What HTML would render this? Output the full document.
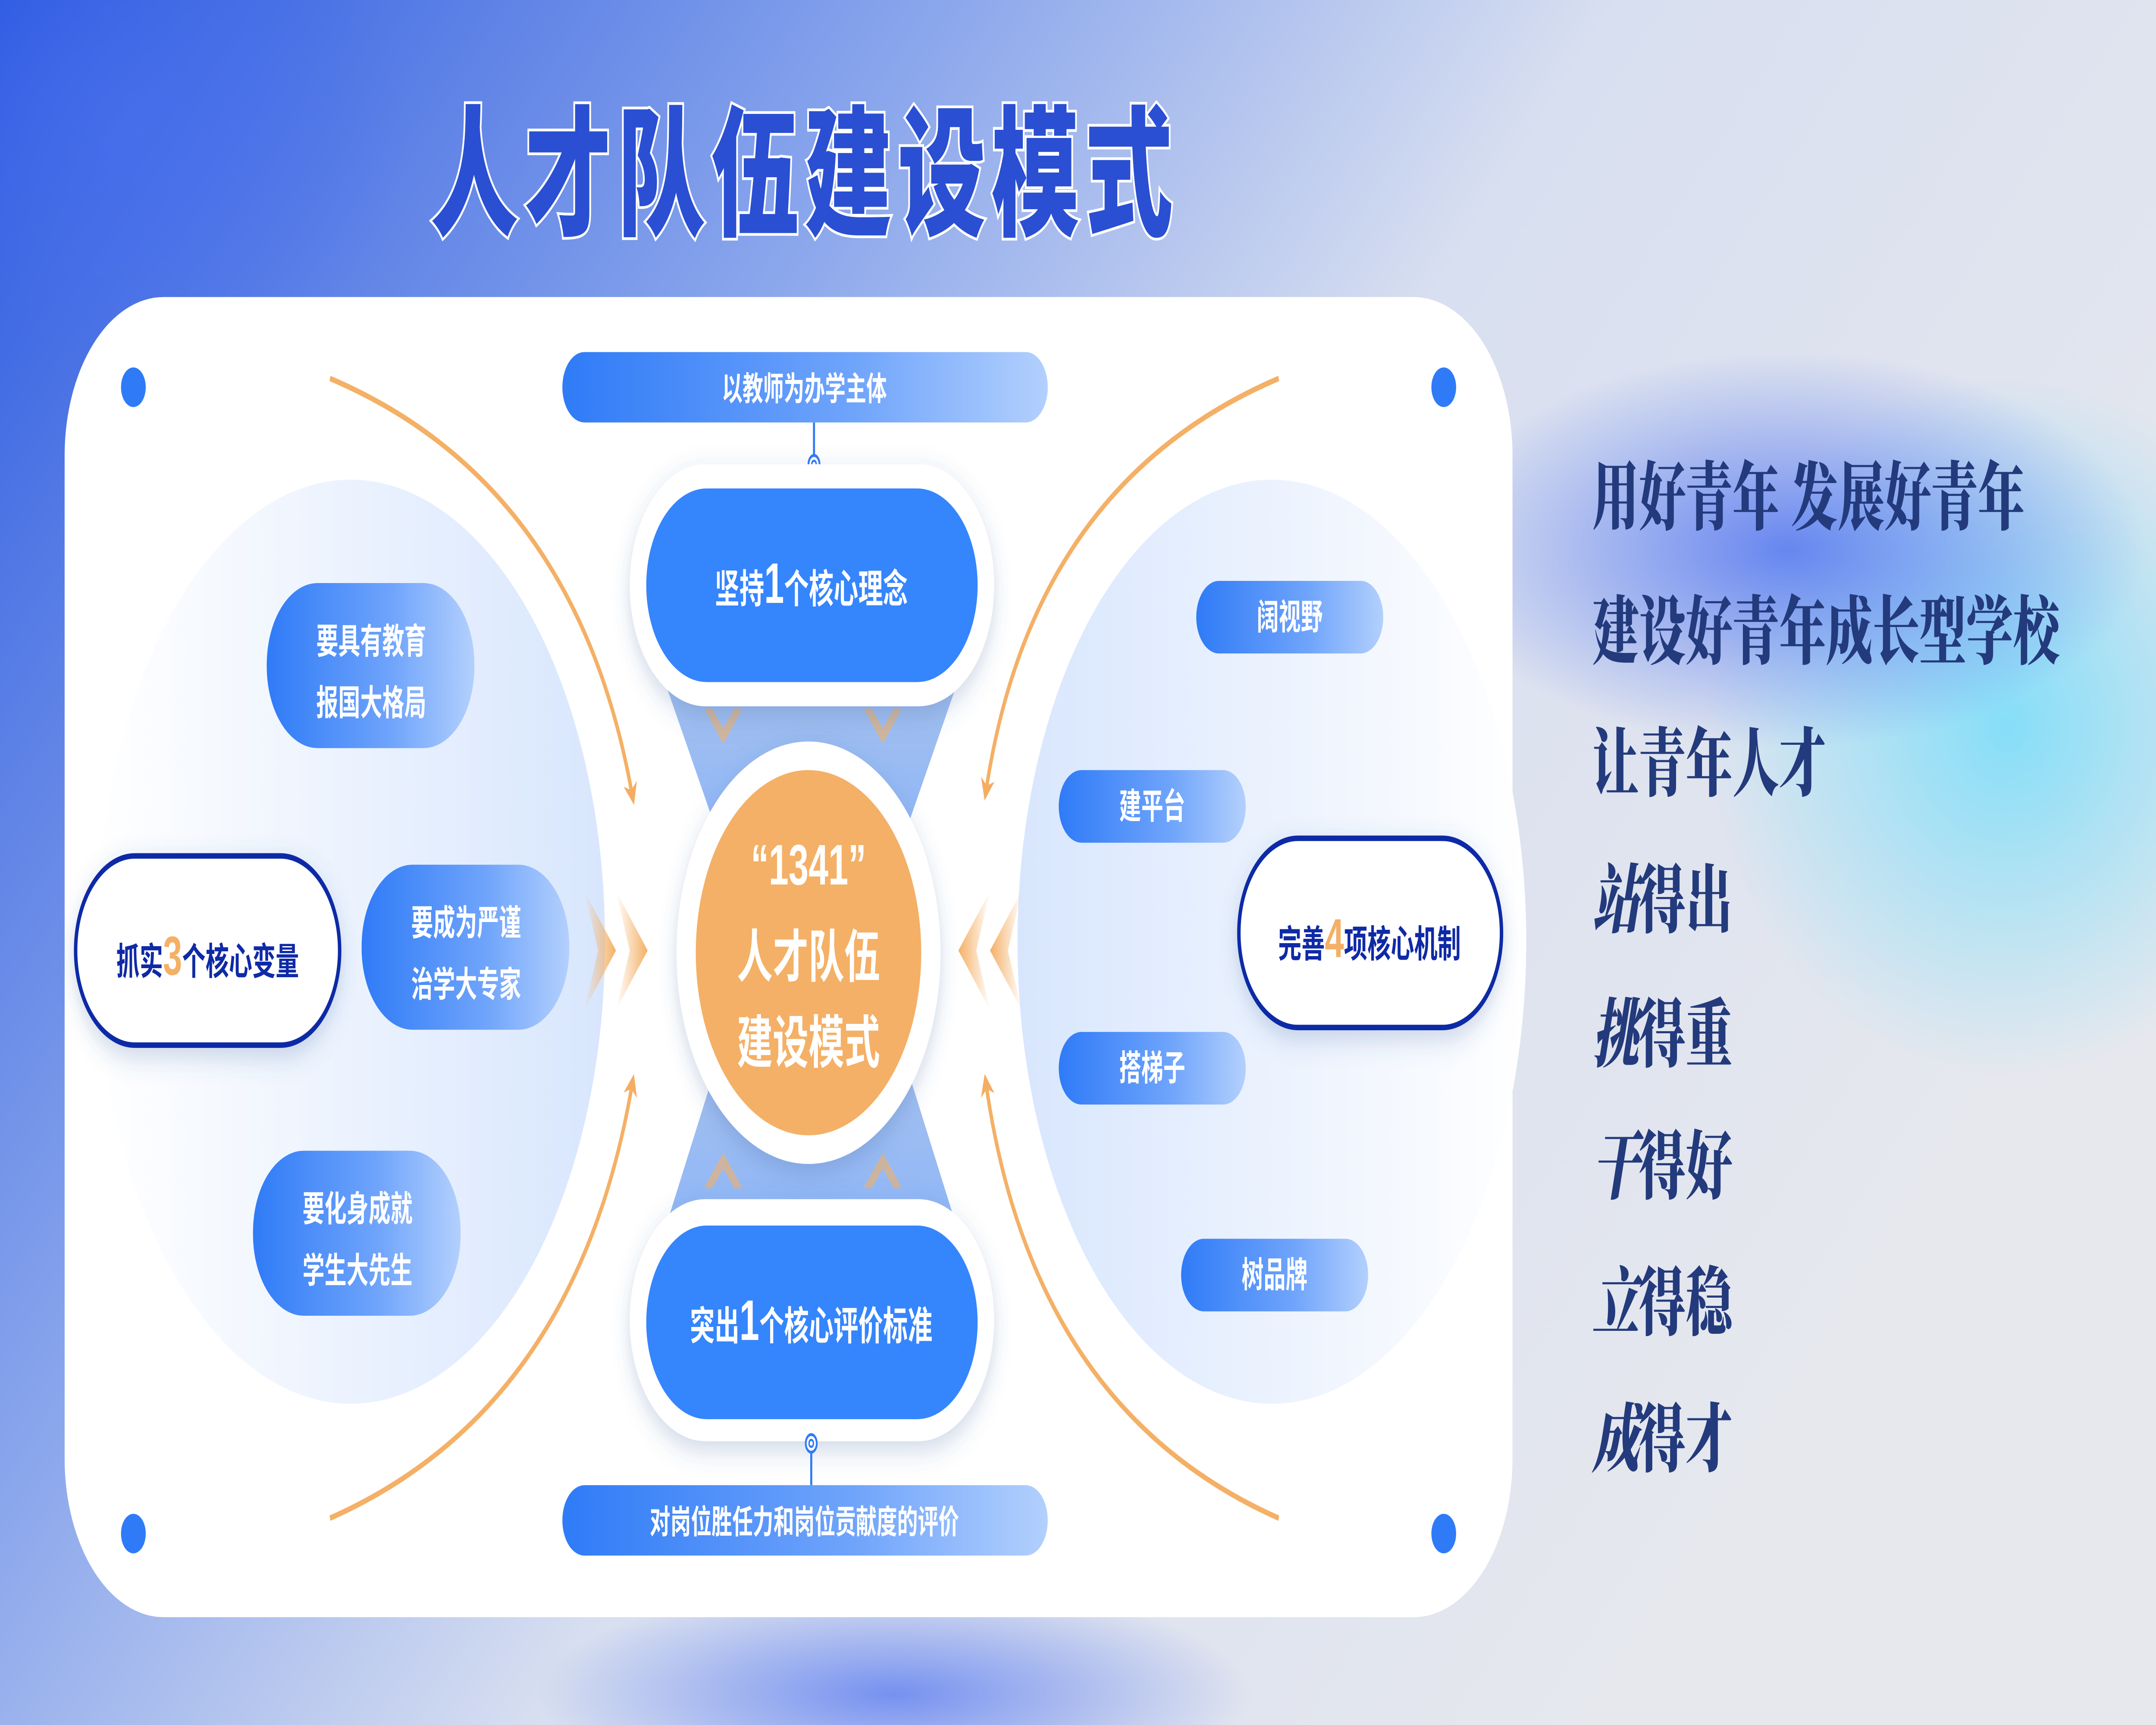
<!DOCTYPE html>
<html><head><meta charset="utf-8"><style>
html,body{margin:0;padding:0;width:100%;height:100%;overflow:hidden;}
svg{display:block;position:absolute;left:0;top:0;width:100vw;height:100vh}
text{font-family:"Liberation Sans","Noto Sans CJK SC",sans-serif;font-weight:bold;}
.s{font-family:"Liberation Serif","Noto Serif CJK SC",serif;font-weight:900;fill:#233a7c;}
</style></head><body>
<svg viewBox="0 0 1568 784" preserveAspectRatio="none" xmlns="http://www.w3.org/2000/svg">
<defs>
<linearGradient id="bg" x1="0" y1="0" x2="1" y2="0.5">
<stop offset="0" stop-color="#2c5ae0"/><stop offset="0.35" stop-color="#8aa6ec"/><stop offset="0.6" stop-color="#d8dff0"/><stop offset="1" stop-color="#e6e8ee"/>
</linearGradient>
<radialGradient id="cy" cx="0.5" cy="0.5" r="0.5"><stop offset="0" stop-color="#86def8"/><stop offset="1" stop-color="#86def8" stop-opacity="0"/></radialGradient>
<radialGradient id="bl" cx="0.5" cy="0.5" r="0.5"><stop offset="0" stop-color="#4a6ff0"/><stop offset="1" stop-color="#4a6ff0" stop-opacity="0"/></radialGradient>
<linearGradient id="pill" x1="0" x2="1"><stop offset="0" stop-color="#2f7bf7"/><stop offset="0.6" stop-color="#6fa4fb"/><stop offset="1" stop-color="#b3d0fd"/></linearGradient>
<linearGradient id="elL" x1="0" x2="1"><stop offset="0" stop-color="#ffffff"/><stop offset="1" stop-color="#d8e6fd"/></linearGradient>
<linearGradient id="elR" x1="1" x2="0"><stop offset="0" stop-color="#ffffff"/><stop offset="1" stop-color="#d8e6fd"/></linearGradient>
<linearGradient id="trap" x1="0" y1="0" x2="0" y2="1"><stop offset="0" stop-color="#a7c2ee"/><stop offset="1" stop-color="#8db5f8"/></linearGradient>
<linearGradient id="chR" x1="0" x2="1"><stop offset="0" stop-color="#f4b066" stop-opacity="0"/><stop offset="1" stop-color="#f4b066"/></linearGradient>
<linearGradient id="chL" x1="1" x2="0"><stop offset="0" stop-color="#f4b066" stop-opacity="0"/><stop offset="1" stop-color="#f4b066"/></linearGradient>
<filter id="sh" x="-30%" y="-30%" width="160%" height="160%"><feDropShadow dx="0" dy="4" stdDeviation="6" flood-color="#4060a0" flood-opacity="0.25"/></filter>
<marker id="ar" markerWidth="10" markerHeight="10" refX="6" refY="5" orient="auto" markerUnits="userSpaceOnUse" viewBox="0 0 10 10"><path d="M0,0 L10,5 L0,10 L3,5z" fill="#f4ad62"/></marker>
</defs>
<rect width="1568" height="784" fill="url(#bg)"/>
<ellipse cx="1460" cy="330" rx="220" ry="160" fill="url(#cy)"/>
<ellipse cx="1300" cy="250" rx="260" ry="90" fill="url(#bl)" opacity="0.8"/>
<ellipse cx="650" cy="770" rx="260" ry="50" fill="url(#bl)" opacity="0.7"/>
<ellipse cx="100" cy="60" rx="200" ry="120" fill="url(#bl)" opacity="0.6"/>

<text x="585" y="102" text-anchor="middle" font-size="64" fill="#2a4fd2" stroke="#ffffff" stroke-width="2.5" paint-order="stroke" letter-spacing="4" style="font-family:'Liberation Sans','Noto Sans CJK SC',sans-serif;font-weight:900">人才队伍建设模式</text>

<rect x="47" y="135" width="1053" height="600" rx="72" fill="#ffffff"/>
<circle cx="97" cy="176" r="9" fill="#2f7bf7"/><circle cx="1050" cy="176" r="9" fill="#2f7bf7"/>
<circle cx="97" cy="697" r="9" fill="#2f7bf7"/><circle cx="1050" cy="697" r="9" fill="#2f7bf7"/>

<ellipse cx="255" cy="428" rx="185" ry="210" fill="url(#elL)"/>
<ellipse cx="925" cy="428" rx="185" ry="210" fill="url(#elR)"/>

<polygon points="478,300 702,300 652,390 528,390" fill="url(#trap)"/>
<polygon points="528,470 652,470 702,570 478,570" fill="url(#trap)"/>
<path d="M240,172 Q420,220 460,362" fill="none" stroke="#f4b066" stroke-width="2.5" marker-end="url(#ar)"/>
<path d="M240,690 Q420,640 460,492" fill="none" stroke="#f4b066" stroke-width="2.5" marker-end="url(#ar)"/>
<path d="M930,172 Q750,220 717,360" fill="none" stroke="#f4b066" stroke-width="2.5" marker-end="url(#ar)"/>
<path d="M930,690 Q750,640 717,492" fill="none" stroke="#f4b066" stroke-width="2.5" marker-end="url(#ar)"/>

<polygon points="425,405 448,432 425,459 435,432" fill="url(#chR)"/>
<polygon points="448,405 471,432 448,459 458,432" fill="url(#chR)"/>
<polygon points="743,405 720,432 743,459 733,432" fill="url(#chL)"/>
<polygon points="720,405 697,432 720,459 710,432" fill="url(#chL)"/>
<g fill="#f4b066" opacity="0.6">
<polygon points="512,322 526,338 540,322 534,322 526,331 518,322"/>
<polygon points="628,322 642,338 656,322 650,322 642,331 634,322"/>
<polygon points="512,540 526,524 540,540 534,540 526,531 518,540"/>
<polygon points="628,540 642,524 656,540 650,540 642,531 634,540"/>
</g>

<rect x="409" y="160" width="353" height="32" rx="16" fill="url(#pill)"/>
<text x="585" y="182" text-anchor="middle" font-size="15" fill="#fff">以教师为办学主体</text>
<line x1="592" y1="192" x2="592" y2="207" stroke="#2f7bf7" stroke-width="1.5"/>
<circle cx="592" cy="211" r="4" fill="#fff" stroke="#2f7bf7" stroke-width="1.3"/><circle cx="592" cy="211" r="1.6" fill="none" stroke="#2f7bf7" stroke-width="1"/>

<rect x="458" y="211" width="265" height="110" rx="55" fill="#fff" filter="url(#sh)"/>
<rect x="470" y="222" width="241" height="88" rx="44" fill="#3585fd"/>
<text x="590" y="274" text-anchor="middle" font-size="18" fill="#fff">坚持<tspan font-size="26">1</tspan>个核心理念</text>

<rect x="458" y="545" width="265" height="110" rx="55" fill="#fff" filter="url(#sh)"/>
<rect x="470" y="557" width="241" height="88" rx="44" fill="#3585fd"/>
<text x="590" y="609" text-anchor="middle" font-size="18" fill="#fff">突出<tspan font-size="26">1</tspan>个核心评价标准</text>

<line x1="590" y1="660" x2="590" y2="675" stroke="#2f7bf7" stroke-width="1.5"/>
<circle cx="590" cy="656" r="4" fill="#fff" stroke="#2f7bf7" stroke-width="1.3"/><circle cx="590" cy="656" r="1.6" fill="none" stroke="#2f7bf7" stroke-width="1"/>
<rect x="409" y="675" width="353" height="32" rx="16" fill="url(#pill)"/>
<text x="585" y="697" text-anchor="middle" font-size="15" fill="#fff">对岗位胜任力和岗位贡献度的评价</text>

<circle cx="588" cy="433" r="96" fill="#fff" filter="url(#sh)"/>
<ellipse cx="588" cy="433" rx="82" ry="83" fill="#f4b066"/>
<g font-size="26" fill="#fff" text-anchor="middle">
<text x="588" y="402">“1341”</text>
<text x="588" y="444">人才队伍</text>
<text x="588" y="483">建设模式</text>
</g>

<g font-size="16" fill="#fff" text-anchor="middle">
<rect x="194" y="265" width="151" height="75" rx="37" fill="url(#pill)"/>
<text x="270" y="297">要具有教育</text><text x="270" y="325">报国大格局</text>
<rect x="263" y="393" width="151" height="75" rx="37" fill="url(#pill)"/>
<text x="339" y="425">要成为严谨</text><text x="339" y="453">治学大专家</text>
<rect x="184" y="523" width="151" height="75" rx="37" fill="url(#pill)"/>
<text x="260" y="555">要化身成就</text><text x="260" y="583">学生大先生</text>
</g>
<rect x="55" y="389" width="192" height="86" rx="43" fill="#fff" stroke="#0f2aa6" stroke-width="2.5" filter="url(#sh)"/>
<text x="151" y="443" text-anchor="middle" font-size="17" fill="#0f2aa6">抓实<tspan font-size="25" fill="#f4b066">3</tspan>个核心变量</text>

<g font-size="16" fill="#fff" text-anchor="middle">
<rect x="870" y="264" width="136" height="33" rx="16.5" fill="url(#pill)"/><text x="938" y="286">阔视野</text>
<rect x="770" y="350" width="136" height="33" rx="16.5" fill="url(#pill)"/><text x="838" y="372">建平台</text>
<rect x="770" y="469" width="136" height="33" rx="16.5" fill="url(#pill)"/><text x="838" y="491">搭梯子</text>
<rect x="859" y="563" width="136" height="33" rx="16.5" fill="url(#pill)"/><text x="927" y="585">树品牌</text>
</g>
<rect x="901" y="381" width="191" height="86" rx="43" fill="#fff" stroke="#0f2aa6" stroke-width="2.5" filter="url(#sh)"/>
<text x="996" y="435" text-anchor="middle" font-size="17" fill="#0f2aa6">完善<tspan font-size="25" fill="#f4b066">4</tspan>项核心机制</text>

<g font-size="34">
<text class="s" x="1158" y="238">用好青年 发展好青年</text>
<text class="s" x="1158" y="299">建设好青年成长型学校</text>
<text class="s" x="1158" y="359">让青年人才</text>
<text class="s" x="1158" y="421" style="font-style:italic">站<tspan style="font-style:normal">得出</tspan></text>
<text class="s" x="1158" y="482" style="font-style:italic">挑<tspan style="font-style:normal">得重</tspan></text>
<text class="s" x="1158" y="542" style="font-style:italic">干<tspan style="font-style:normal">得好</tspan></text>
<text class="s" x="1158" y="604" style="font-style:italic">立<tspan style="font-style:normal">得稳</tspan></text>
<text class="s" x="1158" y="666" style="font-style:italic">成<tspan style="font-style:normal">得才</tspan></text>
</g>
</svg>
</body></html>
